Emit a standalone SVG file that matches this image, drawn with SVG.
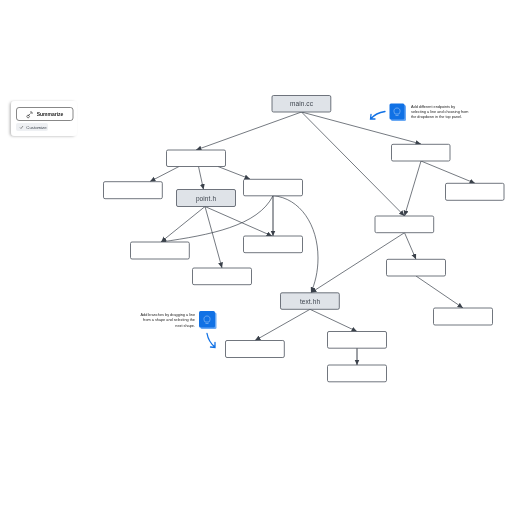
<svg xmlns="http://www.w3.org/2000/svg" width="516" height="516" viewBox="0 0 516 516">
<style>
.n{fill:#fff;stroke:#4c535d;stroke-width:.8}
.g{fill:#dfe3e8}
.t{font-family:"Liberation Sans",Arial,sans-serif;fill:#3a414a;text-anchor:middle;opacity:.99}
.l{font-size:6.500px;letter-spacing:.1px}
.e{fill:none;stroke:#3a414a;stroke-width:.7;marker-end:url(#a)}
.s{font-size:3.800px;font-family:"Liberation Sans",Arial,sans-serif;fill:#222;opacity:.99}
.b{fill:none;stroke:#1071e5;stroke-width:1.300;stroke-linecap:round}
</style>
<defs>
<marker id="a" markerUnits="userSpaceOnUse" markerWidth="7" markerHeight="6" refX="5.500" refY="2.500" orient="auto"><path d="M0,0L5.500,2.500L0,5z" fill="#3a414a"/></marker>
<filter id="sh" x="-20%" y="-20%" width="140%" height="140%"><feDropShadow dx="-1.500" dy=".5" stdDeviation="1" flood-color="#000" flood-opacity=".25"/></filter>
</defs>
<g id="panel">
<rect x="11" y="101" width="66" height="35" rx="4" fill="#fff" filter="url(#sh)"/>
<rect x="16.500" y="107.500" width="56.500" height="13" rx="2.500" fill="#fff" stroke="#555" stroke-width=".7"/>
<path d="M28,116l2.500,-2.500M30,112l2,0l0,2M29,115.500a1.300,1.300 0 1 0 .1,.1" fill="none" stroke="#333" stroke-width=".7"/>
<text x="50" y="116" font-size="5" font-weight="700" class="t" style="fill:#222">Summarize</text>
<rect x="16" y="123" width="32" height="8" rx="2" fill="#eef0f3"/>
<path d="M20,127.500l1,1l2,-2.500" fill="none" stroke="#444" stroke-width=".6"/>
<text x="36.500" y="129" font-size="4.300" class="t">Customize</text>
</g>
<g id="connectors">
<path class="e" d="M301.500,112L196,150"/>
<path class="e" d="M301.500,112L421,144"/>
<path class="e" d="M301.500,112L404.500,216"/>
<path class="e" d="M179,166.500L150,181.500"/>
<path class="e" d="M198.500,166.500L203.500,189.500"/>
<path class="e" d="M218,166.500L250,179"/>
<path class="e" d="M205,206.500L161,242"/>
<path class="e" d="M205,206.500L272,236"/>
<path class="e" d="M205,206.500L222,268"/>
<path class="e" d="M273,195.700L273,236" style="stroke-width:1"/>
<path class="e" d="M273,195.700C258,226 210,235 161,242"/>
<path class="e" d="M273,195.700C300,198 318,225 318,258C318,272 315,283 311,292.700"/>
<path class="e" d="M421,161L404.500,216"/>
<path class="e" d="M421,161L475,183.300"/>
<path class="e" d="M404.500,232.700L311,292.700"/>
<path class="e" d="M404.500,232.700L416,259.300"/>
<path class="e" d="M416,276L463,308"/>
<path class="e" d="M310,309.300L255,340.500"/>
<path class="e" d="M310,309.300L357,331.500"/>
<path class="e" d="M357,348L357,365" style="stroke-width:1"/>
</g>
<g id="main"><rect class="n g" x="272" y="95.500" width="58.800" height="16.500" rx="1.500"/><text class="t l" x="301.500" y="106">main.cc</text></g>
<g id="n1"><rect class="n" x="166.500" y="150" width="59" height="16.500" rx="1.500"/></g>
<g id="n2"><rect class="n" x="103.500" y="181.700" width="58.800" height="17" rx="1.500"/></g>
<g id="point"><rect class="n g" x="176.500" y="189.500" width="59" height="17" rx="1.500"/><text class="t l" x="206" y="200.500">point.h</text></g>
<g id="n3"><rect class="n" x="243.500" y="179.300" width="59" height="16.500" rx="1.500"/></g>
<g id="n4"><rect class="n" x="130.500" y="242" width="58.800" height="17" rx="1.500"/></g>
<g id="n5"><rect class="n" x="243.500" y="236" width="59" height="16.700" rx="1.500"/></g>
<g id="n6"><rect class="n" x="192.500" y="268" width="59" height="16.700" rx="1.500"/></g>
<g id="text"><rect class="n g" x="280.500" y="292.800" width="58.800" height="16.500" rx="1.500"/><text class="t l" x="310" y="303.500">text.hh</text></g>
<g id="n7"><rect class="n" x="225.500" y="340.500" width="58.800" height="17" rx="1.500"/></g>
<g id="n8"><rect class="n" x="327.500" y="331.500" width="59" height="16.700" rx="1.500"/></g>
<g id="n9"><rect class="n" x="327.500" y="365" width="59" height="16.800" rx="1.500"/></g>
<g id="n10"><rect class="n" x="391.500" y="144.300" width="58.500" height="16.700" rx="1.500"/></g>
<g id="n11"><rect class="n" x="445.500" y="183.300" width="58.500" height="17" rx="1.500"/></g>
<g id="n12"><rect class="n" x="375" y="216" width="58.700" height="16.700" rx="1.500"/></g>
<g id="n13"><rect class="n" x="386.500" y="259.300" width="59" height="16.700" rx="1.500"/></g>
<g id="n14"><rect class="n" x="433.500" y="308" width="59" height="17" rx="1.500"/></g>
<g id="tip1">
<rect x="391" y="105" width="15" height="16" rx="1.500" fill="#6aa9f4"/>
<rect x="389.500" y="103.500" width="15" height="16" rx="1.500" fill="#1071e5"/>
<path d="M395,114c-2,-3 -1,-6 2,-6s4,3 2,6zM395.500,115.500h3" fill="none" stroke="#9cc6f7" stroke-width=".6"/>
<text class="s"><tspan x="411" y="107.500">Add different endpoints by</tspan><tspan x="411" y="112.700">selecting a line and choosing from</tspan><tspan x="411" y="118">the dropdown in the top panel.</tspan></text>
<path class="b" d="M385,111.500C379,112.500 374,115 371,118.500M371,114.500L370.500,119L375,119"/>
</g>
<g id="tip2">
<rect x="200.500" y="312.500" width="16" height="16.500" rx="1.500" fill="#6aa9f4"/>
<rect x="199" y="311" width="16" height="16.500" rx="1.500" fill="#1071e5"/>
<path d="M205,322c-2,-3 -1,-6 2,-6s4,3 2,6zM205.500,323.500h3" fill="none" stroke="#9cc6f7" stroke-width=".6"/>
<text class="s" text-anchor="end"><tspan x="195" y="316">Add branches by dragging a line</tspan><tspan x="195" y="321.200">from a shape and selecting the</tspan><tspan x="195" y="326.500">next shape.</tspan></text>
<path class="b" d="M207,333.500C208,339 211,344 215,347M215,342.500L215,347.500L210.500,347"/>
</g>
</svg>
